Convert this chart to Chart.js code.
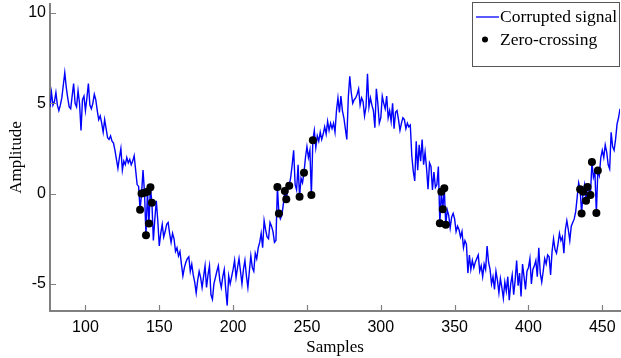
<!DOCTYPE html>
<html>
<head>
<meta charset="utf-8">
<script src="https://cdn.jsdelivr.net/npm/chart.js@4.4.0/dist/chart.umd.min.js"></script>
<style>
  html, body { margin: 0; padding: 0; background: #fff; }
  #wrap { width: 621px; height: 358px; }
</style>
</head>
<body>
<div id="wrap"><canvas id="chart" width="621" height="358"></canvas></div>
<script>
// first sample shown on the x axis
const startSample = 76

// corrupted signal, one value per sample (76 .. 462)
const signal = [
  4.8, 5.6, 4.9, 5.1, 5.6, 4.9, 4.6, 4.9, 5.3, 6.0,
  6.7, 5.9, 5.3, 4.8, 4.7, 5.4, 6.1, 5.0, 4.8, 5.7,
  5.0, 3.5, 5.2, 5.4, 4.6, 5.3, 6.1, 4.9, 4.7, 5.0,
  5.5, 5.2, 4.6, 4.1, 4.3, 3.9, 3.4, 4.1, 3.6, 3.1,
  3.0, 3.2, 2.9, 2.8, 2.4, 1.9, 1.4, 2.0, 2.5, 1.3,
  1.8, 1.6, 2.0, 1.7, 1.9, 1.6, 1.8, 2.1, 1.3, 0.5,
  0.4, -0.9, 0.0, 1.3, 0.05, -2.3, 0.1, -1.65, 0.35, -0.5,
  -2.6, -1.4, -0.4, -1.5, -2.9, -2.2, -1.7, -2.4, -2.1, -1.7,
  -1.6, -2.2, -2.7, -2.2, -2.5, -3.2, -3.0, -3.45, -3.2, -3.9,
  -4.55, -4.1, -3.8, -3.6, -3.5, -4.3, -3.9, -4.5, -4.9, -5.5,
  -4.8, -4.3, -4.65, -5.2, -4.6, -4.0, -5.2, -4.5, -4.0, -5.6,
  -5.85, -5.0, -4.65, -4.3, -4.0, -4.8, -5.2, -4.6, -4.2, -5.3,
  -6.2, -4.55, -5.0, -4.6, -4.2, -3.7, -4.65, -4.1, -3.6, -4.3,
  -5.0, -4.2, -3.7, -4.55, -5.2, -4.3, -3.45, -4.1, -4.3, -3.3,
  -3.6, -3.0, -2.7, -2.2, -3.0, -1.5, -2.0, -2.4, -2.5, -1.6,
  -1.8, -2.1, -2.7, -2.6, 0.37, -1.1, -1.4, -1.2, -0.6, 0.15,
  -0.31, 0.2, 0.43, 0.9, 1.6, 2.4, 0.5, 0.2, 1.6, -0.18,
  0.85, 0.6, 1.16, 2.0, 2.6, 2.0, 2.4, -0.07, 2.95, 3.5,
  2.55, 3.2, 2.9, 3.4, 3.0, 3.3, 3.7, 3.3, 4.0, 3.5,
  3.9, 3.6, 3.9, 3.4, 4.6, 5.3, 4.5, 5.4, 4.6, 4.2,
  3.6, 3.0, 5.3, 6.5, 5.6, 5.0, 5.2, 5.3, 5.5, 5.8,
  4.9, 5.3, 5.1, 4.3, 4.8, 6.64, 4.8, 5.3, 4.9, 4.6,
  3.65, 5.8, 5.0, 3.9, 4.2, 5.4, 5.0, 4.7, 5.4, 4.2,
  4.6, 4.0, 5.0, 3.6, 4.5, 4.6, 4.1, 3.5, 3.9, 4.2,
  4.1, 3.6, 3.9, 3.7, 3.8, 2.1, 1.25, 0.7, 2.9, 1.3,
  2.7, 1.8, 3.0, 1.6, 2.3, 1.4, 0.25, 1.7, 1.5, 0.2,
  1.2, 0.35, 0.5, 1.5, -1.64, 0.11, -0.87, 0.3, -1.73, -0.9,
  -1.2, -1.9, -1.3, -1.1, -1.4, -2.1, -1.8, -2.0, -2.4, -2.1,
  -3.0, -2.6, -2.8, -4.4, -3.4, -4.2, -3.7, -4.1, -3.8, -3.6,
  -3.4, -4.3, -4.0, -4.6, -3.9, -4.2, -2.9, -3.8, -4.2, -5.0,
  -4.6, -5.3, -4.3, -4.8, -5.5, -4.7, -5.2, -5.8, -4.9, -5.4,
  -4.6, -5.9, -5.0, -4.5, -5.6, -4.8, -3.7, -5.1, -4.4, -5.7,
  -3.9, -4.6, -5.3, -4.3, -4.1, -3.6, -5.0, -4.2, -4.0, -3.7,
  -4.6, -3.0, -4.4, -4.9, -4.3, -3.6, -3.9, -3.4, -3.5, -4.5,
  -3.2, -2.5, -3.1, -3.3, -2.8, -2.2, -2.6, -2.4, -3.3, -2.0,
  -1.5, -2.0, -2.6, -1.8, -1.6, -1.4, -1.0, -0.2, 0.6, 0.24,
  -1.1, 0.1, 0.5, -0.4, 0.37, 0.2, -0.07, 1.75, 0.9, 1.2,
  -1.07, 1.28, 1.0, 2.0, 2.4, 2.0, 2.7, 2.3, 1.6, 1.37,
  3.4, 2.6, 2.4, 3.0, 3.85, 4.2, 4.7
]

// samples marked as zero-crossings
const zeroCrossSamples = [
  137, 138, 140, 141, 142, 143, 144, 145,
  230, 231, 235, 236, 238, 245, 248, 253, 254,
  340, 341, 342, 343, 344,
  435, 436, 437, 439, 440, 442, 443, 446, 447
]

const xTicks = [100, 150, 200, 250, 300, 350, 400, 450]
const yTicks = [-5, 0, 5, 10]

const seriesNames = ['Corrupted signal', 'Zero-crossing']

const axisColor = '#808080'
const tickFont = { family: 'Liberation Sans', size: 16 }
const serifFont = { family: 'Liberation Serif', size: 17 }
const legendFontSize = 17.5

const signalPoints = signal.map((v, i) => ({ x: startSample + i, y: v }))
const zeroCrossPoints = zeroCrossSamples.map(s => ({ x: s, y: signal[s - startSample] }))

// matlab style ticks, drawn inside the axes
const innerTicks = {
  id: 'innerTicks',
  afterDraw(chart) {
    const { ctx, chartArea, scales } = chart
    ctx.save()
    ctx.strokeStyle = axisColor
    ctx.lineWidth = 1.2
    ctx.beginPath()
    xTicks.forEach(t => {
      const px = Math.round(scales.x.getPixelForValue(t)) + 0.5
      ctx.moveTo(px, chartArea.bottom)
      ctx.lineTo(px, chartArea.bottom - 6)
    })
    yTicks.forEach(t => {
      const py = Math.round(scales.y.getPixelForValue(t)) + 0.5
      ctx.moveTo(chartArea.left, py)
      ctx.lineTo(chartArea.left + 6, py)
    })
    ctx.stroke()
    ctx.restore()
  }
}

// boxed legend in the top right corner
const boxLegend = {
  id: 'boxLegend',
  afterDraw(chart) {
    const { ctx } = chart
    const x = 472.5, y = 2.5, w = 147, h = 64
    ctx.save()
    ctx.fillStyle = '#fff'
    ctx.fillRect(x, y, w, h)
    ctx.strokeStyle = '#555'
    ctx.lineWidth = 1
    ctx.strokeRect(x, y, w, h)

    ctx.strokeStyle = '#0000ff'
    ctx.lineWidth = 1.3
    ctx.beginPath()
    ctx.moveTo(476, 17)
    ctx.lineTo(499, 17)
    ctx.stroke()

    ctx.fillStyle = '#000'
    ctx.beginPath()
    ctx.arc(485, 39.5, 3, 0, Math.PI * 2)
    ctx.fill()

    ctx.font = legendFontSize + 'px "' + serifFont.family + '"'
    ctx.textBaseline = 'middle'
    ctx.fillText(seriesNames[0], 500, 17)
    ctx.fillText(seriesNames[1], 500, 40)
    ctx.restore()
  }
}

const config = {
  type: 'line',
  data: {
    datasets: [
      {
        label: seriesNames[0],
        data: signalPoints,
        borderColor: '#0000ff',
        borderWidth: 1.4,
        pointRadius: 0,
        tension: 0,
        order: 2
      },
      {
        label: seriesNames[1],
        type: 'scatter',
        data: zeroCrossPoints,
        showLine: false,
        pointRadius: 4,
        pointBackgroundColor: '#000',
        pointBorderColor: '#000',
        pointBorderWidth: 0,
        order: 1
      }
    ]
  },
  options: {
    responsive: false,
    animation: false,
    // no automatic room for point overflow, the plot runs to the right edge
    layout: { autoPadding: false, padding: { top: 4, right: 1, left: 0, bottom: 0 } },
    plugins: {
      legend: { display: false },
      tooltip: { enabled: false }
    },
    scales: {
      x: {
        type: 'linear',
        min: 76,
        max: 462,
        afterBuildTicks: s => { s.ticks = xTicks.map(v => ({ value: v })) },
        afterFit: s => { s.height = 47; s.paddingLeft = 0; s.paddingRight = 0 },
        grid: { display: false, drawTicks: false },
        border: { display: true, color: axisColor, width: 2 },
        ticks: { color: '#000', font: tickFont, padding: 7, maxRotation: 0 },
        title: { display: true, text: 'Samples', color: '#000', font: serifFont, padding: { top: 0, bottom: 0 } }
      },
      y: {
        min: -6.5,
        max: 10.5,
        afterBuildTicks: s => { s.ticks = yTicks.map(v => ({ value: v })) },
        afterFit: s => { s.width = 50; s.paddingTop = 0; s.paddingBottom = 0 },
        grid: { display: false, drawTicks: false },
        border: { display: true, color: axisColor, width: 2 },
        ticks: { color: '#000', font: tickFont, padding: 4 },
        title: { display: true, text: 'Amplitude', color: '#000', font: serifFont, padding: { top: 6, bottom: 0 } }
      }
    }
  },
  plugins: [innerTicks, boxLegend]
}

const chart = new Chart(document.getElementById('chart').getContext('2d'), config)
</script>
</body>
</html>
